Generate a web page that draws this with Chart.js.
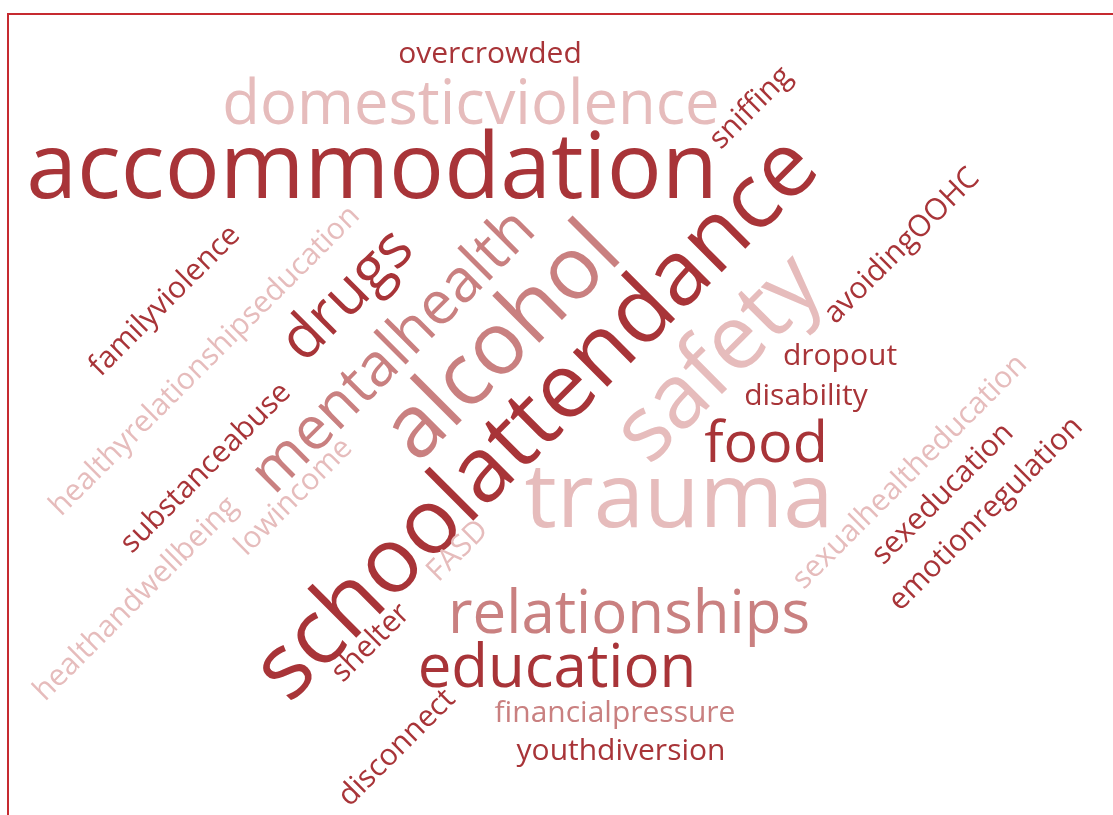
<!DOCTYPE html>
<html>
<head>
<meta charset="utf-8">
<script src="https://cdn.jsdelivr.net/npm/chart.js@4"></script>
<style>
    html, body { margin: 0; padding: 0; background: #ffffff; overflow: hidden; }
    #frame { position: absolute; left: 7px; top: 13px; width: 1200px; height: 900px; border: 2px solid #c62a30; }
    #cloud { position: absolute; left: 0; top: 0; }
</style>
</head>
<body>
<div id="frame"></div>
<canvas id="cloud" width="1113" height="815"></canvas>
<script>
// words and how often they came up
const words = [
    "overcrowded", "domesticviolence", "accommodation", "sniffing", "schoolattendance",
    "familyviolence", "healthyrelationshipseducation", "drugs", "mentalhealth", "alcohol",
    "safety", "avoidingOOHC", "dropout", "disability", "food",
    "trauma", "substanceabuse", "healthandwellbeing", "lowincome", "FASD",
    "sexualhealtheducation", "sexeducation", "emotionregulation", "relationships", "education",
    "shelter", "financialpressure", "disconnect", "youthdiversion"
];
const counts = [
    6, 12.3, 18.3, 6, 18.2,
    6, 6, 12, 12, 17.5,
    18, 6, 6, 6, 11.5,
    18.1, 6, 6, 6, 6,
    6, 6, 6, 12, 12,
    6, 6, 6, 6
];
// 0 = dark, 1 = medium, 2 = light
const tones = [
    0, 2, 0, 0, 0,
    0, 2, 0, 1, 1,
    2, 0, 0, 0, 0,
    2, 0, 2, 2, 2,
    2, 0, 0, 1, 0,
    0, 1, 0, 0
];
// layout of the cloud (baseline centre of each word)
const layoutX = [
    490, 471, 372, 757, 556,
    171, 211, 360, 406, 521,
    738, 908, 840, 806, 766,
    679, 212, 142, 300, 464,
    916, 949, 992, 629, 557,
    377, 615, 403, 621
];
const layoutY = [
    63, 124, 198, 114, 438,
    307, 367, 308, 364, 361,
    378, 252, 365, 405, 462,
    527, 474, 605, 503, 557,
    478, 500, 520, 633, 687,
    649, 722, 754, 760
];
const angles = [
    0, 0, 0, -45, -45,
    -45, -45, -45, -45, -45,
    -45, -45, 0, 0, 0,
    0, -45, -45, -45, -45,
    -45, -45, -45, 0, 0,
    -45, 0, -45, 0
];

const toneColors = ["#a83438", "#c98080", "#e6bcbc"];
const pxPerCount = 5;

const wordPlugin = {
    id: "wordPlugin",
    afterDatasetsDraw(chart) {
        const ctx = chart.ctx;
        const meta = chart.getDatasetMeta(0);
        meta.data.forEach((pt, i) => {
            ctx.save();
            ctx.translate(pt.x, pt.y);
            ctx.rotate(angles[i] * Math.PI / 180);
            ctx.font = `${counts[i] * pxPerCount}px "Open Sans", "Noto Sans", sans-serif`;
            ctx.fillStyle = toneColors[tones[i]];
            ctx.textAlign = "center";
            ctx.textBaseline = "alphabetic";
            ctx.fillText(words[i], 0, 0);
            ctx.restore();
        });
    }
};

const ctx = document.getElementById("cloud").getContext("2d");
new Chart(ctx, {
    type: "scatter",
    data: {
        datasets: [
            {
                label: "words",
                data: words.map((w, i) => ({ x: layoutX[i], y: layoutY[i] })),
                pointRadius: 0,
                pointHoverRadius: 0,
            },
        ],
    },
    options: {
        responsive: false,
        animation: false,
        layout: { padding: 0 },
        scales: {
            x: { type: "linear", min: 0, max: 1113, display: false },
            y: { type: "linear", min: 0, max: 815, reverse: true, display: false },
        },
        plugins: {
            legend: { display: false },
            tooltip: { enabled: false },
        },
    },
    plugins: [wordPlugin],
});
</script>
</body>
</html>
